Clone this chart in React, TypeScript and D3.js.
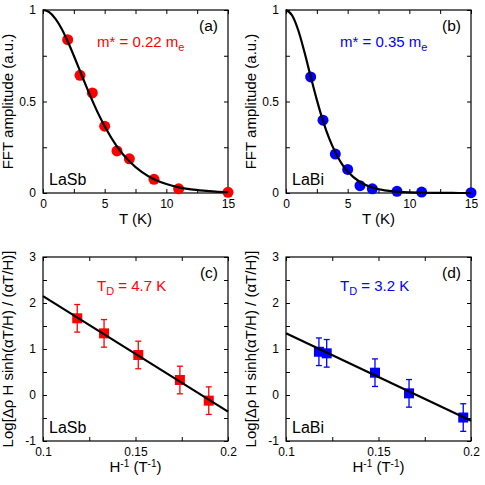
import React, { useEffect, useRef } from "react";
import * as d3 from "d3";

// temperature dependence of the FFT amplitude
const temps = [2, 3, 4, 5, 6, 7, 9, 11, 15];
const ampLaSb = [0.838, 0.643, 0.547, 0.365, 0.23, 0.187, 0.075, 0.023, 0.004];
const ampLaBi = [0.634, 0.398, 0.213, 0.129, 0.04, 0.023, 0.009, 0.005, 0.002];

// LK fit curves
const fitT = [0, 0.5, 1, 1.5, 2, 2.5, 3, 3.5, 4, 4.5, 5, 6, 7, 8, 9, 10, 11, 12, 13, 14, 15];
const fitLaSb = [1, 0.988, 0.953, 0.899, 0.829, 0.75, 0.667, 0.584, 0.505, 0.431, 0.365, 0.254, 0.173, 0.115, 0.075, 0.049, 0.031, 0.02, 0.013, 0.008, 0.005];
const fitLaBi = [1, 0.97, 0.888, 0.769, 0.637, 0.509, 0.394, 0.298, 0.222, 0.162, 0.117, 0.06, 0.03, 0.014, 0.007, 0.003, 0.0015, 0.0007, 0.0003, 0.0001, 0];

// Dingle plots
const invHLaSb = [0.1185, 0.133, 0.1515, 0.174, 0.1896];
const dingleLaSb = [1.667, 1.34, 0.87, 0.326, -0.123];
const errLaSb = [0.3, 0.3, 0.3, 0.3, 0.3];
const invHLaBi = [0.1178, 0.122, 0.1481, 0.1665, 0.1958];
const dingleLaBi = [0.94, 0.906, 0.485, 0.036, -0.49];
const errLaBi = [0.3, 0.3, 0.3, 0.3, 0.3];
const lineX = [0.1, 0.2];
const lineLaSb = [2.15, -0.36];
const lineLaBi = [1.34, -0.56];

// ticks
const tTicks = [0, 2.5, 5, 7.5, 10, 12.5, 15];
const tLabels = [0, 5, 10, 15];
const ampTicks = [0, 0.25, 0.5, 0.75, 1];
const ampLabels = [0, 0.5, 1];
const hTicks = [0.1, 0.125, 0.15, 0.175, 0.2];
const hLabels = [0.1, 0.15, 0.2];
const dTicks = [-1, -0.5, 0, 0.5, 1, 1.5, 2, 2.5, 3];
const dLabels = [-1, 0, 1, 2, 3];

const FONT = "'Liberation Sans', Arial, Helvetica, sans-serif";

const drawFrame = (svg, box, x, y, o) => {
    const g = svg.append('g');
    const has = (arr, d) => arr.some(v => Math.abs(v - d) < 1e-9);

    const xAxis = g.append('g')
        .attr('transform', `translate(0, ${box.bottom})`)
        .call(d3.axisBottom(x).tickValues(o.xTicks).tickSizeInner(-4).tickSizeOuter(0).tickPadding(6.5)
            .tickFormat(d => has(o.xLabels, d) ? String(d) : ''));
    g.append('g')
        .attr('transform', `translate(0, ${box.top})`)
        .call(d3.axisTop(x).tickValues(o.xTicks).tickSizeInner(-4).tickSizeOuter(0).tickFormat(() => ''));
    const yAxis = g.append('g')
        .attr('transform', `translate(${box.left}, 0)`)
        .call(d3.axisLeft(y).tickValues(o.yTicks).tickSizeInner(-4).tickSizeOuter(0).tickPadding(7)
            .tickFormat(d => has(o.yLabels, d) ? String(d) : ''));
    g.append('g')
        .attr('transform', `translate(${box.right}, 0)`)
        .call(d3.axisRight(y).tickValues(o.yTicks).tickSizeInner(-4).tickSizeOuter(0).tickFormat(() => ''));

    g.selectAll('.domain').remove();
    g.selectAll('.tick line').attr('stroke', '#000');
    [xAxis, yAxis].forEach(a => a.selectAll('text')
        .attr('font-size', 12).attr('font-family', FONT).attr('fill', '#000'));

    g.append('rect')
        .attr('x', box.left).attr('y', box.top)
        .attr('width', box.right - box.left).attr('height', box.bottom - box.top)
        .attr('fill', 'none').attr('stroke', '#000').attr('stroke-width', 1.2);

    // axis titles
    const xt = g.append('text')
        .attr('x', (box.left + box.right) / 2).attr('y', box.bottom + 31)
        .attr('text-anchor', 'middle').attr('font-size', 15).attr('font-family', FONT);
    o.xTitle.forEach(p => xt.append('tspan').text(p.t)
        .attr('dy', p.dy || 0).attr('font-size', p.fs || 15));

    g.append('text')
        .attr('transform', `translate(${box.left - 30}, ${(box.top + box.bottom) / 2}) rotate(-90)`)
        .attr('text-anchor', 'middle').attr('font-size', 15).attr('font-family', FONT)
        .text(o.yTitle);

    g.append('text')
        .attr('x', box.right - 10).attr('y', box.top + 21)
        .attr('text-anchor', 'end').attr('font-size', 15.5).attr('font-family', FONT)
        .text(o.tag);

    g.append('text')
        .attr('x', box.left + 6).attr('y', box.bottom - 8)
        .attr('font-size', 16).attr('font-family', FONT)
        .text(o.name);

    const note = g.append('text')
        .attr('x', box.left + 54).attr('y', box.top + o.noteDy)
        .attr('font-size', 15).attr('font-family', FONT).attr('fill', o.color);
    o.note.forEach(p => note.append('tspan').text(p.t)
        .attr('dy', p.dy || 0).attr('font-size', p.fs || 15));
    return g;
};

const App = () => {
    const ref = useRef(null);

    useEffect(() => {
        const svg = d3.select(ref.current);
        svg.selectAll('*').remove();

        const cols = [{ left: 43, right: 228 }, { left: 286, right: 471 }];
        const rows = [{ top: 10, bottom: 193 }, { top: 257, bottom: 441 }];

        // top row: amplitude vs T
        [
            { amp: ampLaSb, fit: fitLaSb, color: '#ff0000', name: 'LaSb', tag: '(a)', m: '0.22' },
            { amp: ampLaBi, fit: fitLaBi, color: '#0000ff', name: 'LaBi', tag: '(b)', m: '0.35' },
        ].forEach((p, i) => {
            const box = { ...cols[i], ...rows[0] };
            const x = d3.scaleLinear().domain([0, 15]).range([box.left, box.right]);
            const y = d3.scaleLinear().domain([0, 1]).range([box.bottom, box.top]);
            const g = drawFrame(svg, box, x, y, {
                xTicks: tTicks, xLabels: tLabels, yTicks: ampTicks, yLabels: ampLabels,
                xTitle: [{ t: 'T (K)' }], yTitle: 'FFT amplitude (a.u.)',
                tag: p.tag, name: p.name, color: p.color, noteDy: 37,
                note: [{ t: `m* = ${p.m} m` }, { t: 'e', dy: 4, fs: 11 }],
            });
            g.selectAll('circle.pt')
                .data(temps)
                .enter().append('circle')
                    .attr('cx', d => x(d))
                    .attr('cy', (d, j) => y(p.amp[j]))
                    .attr('r', 5.5)
                    .attr('fill', p.color);
            const line = d3.line()
                .x(d => x(d))
                .y((d, j) => y(p.fit[j]))
                .curve(d3.curveMonotoneX);
            g.append('path')
                .attr('d', line(fitT))
                .attr('fill', 'none').attr('stroke', '#000').attr('stroke-width', 2.2);
        });

        // bottom row: Dingle plots
        [
            { xs: invHLaSb, ys: dingleLaSb, err: errLaSb, fit: lineLaSb, color: '#ff0000', name: 'LaSb', tag: '(c)', td: '4.7' },
            { xs: invHLaBi, ys: dingleLaBi, err: errLaBi, fit: lineLaBi, color: '#0000ff', name: 'LaBi', tag: '(d)', td: '3.2' },
        ].forEach((p, i) => {
            const box = { ...cols[i], ...rows[1] };
            const x = d3.scaleLinear().domain([0.1, 0.2]).range([box.left, box.right]);
            const y = d3.scaleLinear().domain([-1, 3]).range([box.bottom, box.top]);
            const g = drawFrame(svg, box, x, y, {
                xTicks: hTicks, xLabels: hLabels, yTicks: dTicks, yLabels: dLabels,
                xTitle: [{ t: 'H' }, { t: '-1', dy: -5, fs: 10 }, { t: ' (T', dy: 5 }, { t: '-1', dy: -5, fs: 10 }, { t: ')', dy: 5 }],
                yTitle: 'Log[\u0394\u03c1 H sinh(\u03b1T/H) / (\u03b1T/H)]',
                tag: p.tag, name: p.name, color: p.color, noteDy: 34,
                note: [{ t: 'T' }, { t: 'D', dy: 4, fs: 11 }, { t: ' = ' + p.td + ' K', dy: -4 }],
            });
            const pts = p.xs.map((d, j) => ({ x: d, y: p.ys[j], e: p.err[j] }));
            const eb = g.append('g').attr('stroke', p.color).attr('stroke-width', 1.3);
            pts.forEach(d => {
                eb.append('line').attr('x1', x(d.x)).attr('x2', x(d.x))
                    .attr('y1', y(d.y - d.e)).attr('y2', y(d.y + d.e));
                eb.append('line').attr('x1', x(d.x) - 3).attr('x2', x(d.x) + 3)
                    .attr('y1', y(d.y - d.e)).attr('y2', y(d.y - d.e));
                eb.append('line').attr('x1', x(d.x) - 3).attr('x2', x(d.x) + 3)
                    .attr('y1', y(d.y + d.e)).attr('y2', y(d.y + d.e));
            });
            g.selectAll('rect.pt')
                .data(pts)
                .enter().append('rect')
                    .attr('x', d => x(d.x) - 5)
                    .attr('y', d => y(d.y) - 5)
                    .attr('width', 10)
                    .attr('height', 10)
                    .attr('fill', p.color);
            g.append('line')
                .attr('x1', x(lineX[0])).attr('y1', y(p.fit[0]))
                .attr('x2', x(lineX[1])).attr('y2', y(p.fit[1]))
                .attr('stroke', '#000').attr('stroke-width', 2.2);
        });
    }, []);

    return (
        <svg ref={ref} width={485} height={485}
            style={{ position: 'absolute', left: 0, top: 0, background: '#fff' }} />
    );
};

export default App;
